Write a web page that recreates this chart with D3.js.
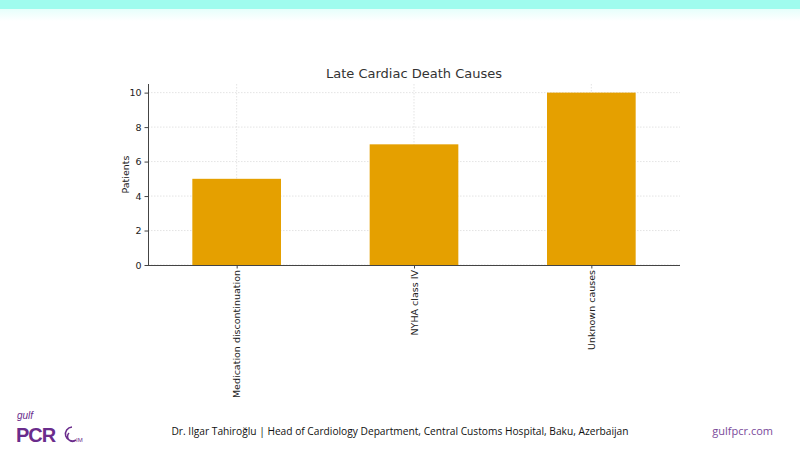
<!DOCTYPE html>
<html><head><meta charset="utf-8">
<script src="https://cdn.jsdelivr.net/npm/d3@7"></script>
<style>body{margin:0;background:#fff;} svg{display:block;}</style>
</head><body>
<svg id="c" width="800" height="450"></svg>
<script>
const categories = ["Medication discontinuation", "NYHA class IV", "Unknown causes"];
const patients = [5, 7, 10];
const yTicks = [0, 2, 4, 6, 8, 10];

const svg = d3.select("#c");
const defs = svg.append("defs");
const g1 = defs.append("linearGradient").attr("id","topfade").attr("x1",0).attr("x2",0).attr("y1",0).attr("y2",1);
g1.append("stop").attr("offset","0%").attr("stop-color","#e6fffb");
g1.append("stop").attr("offset","100%").attr("stop-color","#ffffff");
svg.append("rect").attr("x",0).attr("y",9).attr("width",800).attr("height",12).attr("fill","url(#topfade)");
svg.append("rect").attr("x",0).attr("y",0).attr("width",800).attr("height",9).attr("fill","#9ffcee");

const L = 148, R = 680, T = 84, B = 265;
const x = d3.scaleLinear().domain([-0.5, 2.5]).range([L, R]);
const y = d3.scaleLinear().domain([0, 10.5]).range([B, T]);

// grid
const grid = svg.append("g");
yTicks.forEach(t => grid.append("line").attr("x1",L).attr("x2",R).attr("y1",y(t)).attr("y2",y(t))
  .attr("stroke","#d8d8d8").attr("stroke-width",0.7).attr("stroke-dasharray","1.5,1.5"));
categories.forEach((c,i) => grid.append("line").attr("x1",x(i)).attr("x2",x(i)).attr("y1",T).attr("y2",B)
  .attr("stroke","#d8d8d8").attr("stroke-width",0.7).attr("stroke-dasharray","1.5,1.5"));

// bars
svg.append("g").selectAll("rect").data(patients).join("rect")
  .attr("x",(d,i)=>x(i-0.25)).attr("width",(d,i)=>x(i+0.25)-x(i-0.25))
  .attr("y",d=>y(d)).attr("height",d=>B-y(d)).attr("fill","#e5a000");

// axes
const font = "DejaVu Sans, sans-serif";
const yAxis = svg.append("g").attr("transform",`translate(${L},0)`)
  .call(d3.axisLeft(y).tickValues(yTicks).tickSize(3.5).tickPadding(3));
const xAxis = svg.append("g").attr("transform",`translate(0,${B})`)
  .call(d3.axisBottom(x).tickValues(d3.range(categories.length)).tickFormat(i=>categories[i]).tickSize(3.5).tickPadding(3));
[yAxis, xAxis].forEach(a => {
  a.select(".domain").attr("stroke","#444").attr("stroke-width",1);
  a.selectAll(".tick line").attr("stroke","#444");
  a.selectAll("text").attr("fill","#222").style("font-family",font).style("font-size","9.5px");
});
xAxis.selectAll("text").attr("transform","rotate(-90)").attr("text-anchor","end")
  .attr("x",-5).attr("y",0).attr("dy","0.35em");
yAxis.select(".domain").attr("d",`M0.5,${B}V${T}`);
xAxis.select(".domain").attr("d",`M${L},0.5H${R}`);

svg.append("text").attr("x",(L+R)/2).attr("y",78).attr("text-anchor","middle")
  .style("font-family",font).style("font-size","13px").attr("fill","#333").text("Late Cardiac Death Causes");
svg.append("text").attr("transform",`translate(129,${(T+B)/2}) rotate(-90)`).attr("text-anchor","middle")
  .style("font-family",font).style("font-size","9.5px").attr("fill","#222").text("Patients");

// footer
svg.append("text").attr("x",400).attr("y",435).attr("text-anchor","middle")
  .style("font-family","Open Sans, Liberation Sans, sans-serif").style("font-size","10.2px").attr("fill","#111")
  .text("Dr. Ilgar Tahiroğlu | Head of Cardiology Department, Central Customs Hospital, Baku, Azerbaijan");
svg.append("text").attr("x",773).attr("y",435).attr("text-anchor","end")
  .style("font-family","Open Sans, Liberation Sans, sans-serif").style("font-size","11px").attr("fill","#7a4a9a")
  .text("gulfpcr.com");

// logo
const logo = svg.append("g").attr("fill","#6a2c8c");
logo.append("text").attr("x",17).attr("y",419).style("font-family","Liberation Sans, sans-serif")
  .style("font-style","italic").style("font-size","10px").text("gulf");
logo.append("text").attr("x",16).attr("y",442).style("font-family","Liberation Sans, sans-serif")
  .style("font-weight","bold").style("font-size","20px").style("letter-spacing","-1px").text("PCR");
logo.append("path").attr("d","M72,427 A7,7 0 1 0 76,440 M69,433 A4,4 0 1 0 76,440")
  .attr("fill","none").attr("stroke","#6a2c8c").attr("stroke-width",1.5);
logo.append("text").attr("x",76).attr("y",442).style("font-family","Liberation Sans, sans-serif")
  .style("font-size","6px").text("IM");
</script>
</body></html>
